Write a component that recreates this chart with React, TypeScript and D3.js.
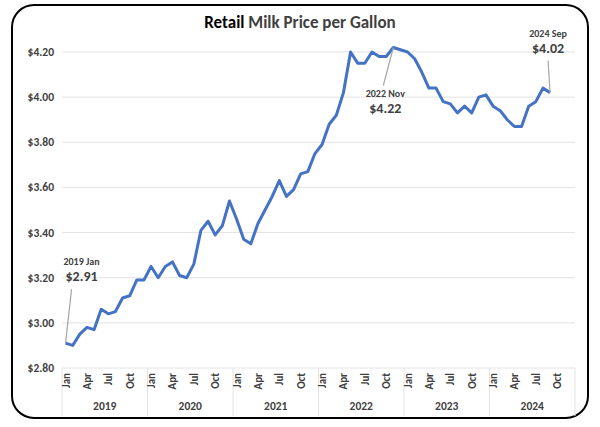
import React from 'react';
import * as d3 from 'd3';

const years = ['2019', '2020', '2021', '2022', '2023', '2024'];
const monthNames = ['Jan', 'Feb', 'Mar', 'Apr', 'May', 'Jun', 'Jul', 'Aug', 'Sep', 'Oct', 'Nov', 'Dec'];
const tickMonths = ['Jan', 'Apr', 'Jul', 'Oct'];
const yTicks = [2.8, 3.0, 3.2, 3.4, 3.6, 3.8, 4.0, 4.2];

const prices = [
  2.91, 2.90, 2.95, 2.98, 2.97, 3.06, 3.04, 3.05, 3.11, 3.12, 3.19, 3.19,
  3.25, 3.20, 3.25, 3.27, 3.21, 3.20, 3.26, 3.41, 3.45, 3.39, 3.43, 3.54,
  3.46, 3.37, 3.35, 3.44, 3.50, 3.56, 3.63, 3.56, 3.59, 3.66, 3.67, 3.75,
  3.79, 3.88, 3.92, 4.02, 4.20, 4.15, 4.15, 4.20, 4.18, 4.18, 4.22, 4.21,
  4.20, 4.17, 4.11, 4.04, 4.04, 3.98, 3.97, 3.93, 3.96, 3.93, 4.00, 4.01,
  3.96, 3.94, 3.90, 3.87, 3.87, 3.96, 3.98, 4.04, 4.02,
];

const callouts = [
  { index: 0, label: '2019 Jan', value: '$2.91', dx: -4, dy: -62 },
  { index: 46, label: '2022 Nov', value: '$4.22', dx: -8, dy: 50 },
  { index: 68, label: '2024 Sep', value: '$4.02', dx: -2, dy: -40 },
];

const W = 600;
const H = 427;
const margin = { top: 35, right: 25, bottom: 60, left: 62 };

export default function App() {
  const innerW = W - margin.left - margin.right;
  const innerH = H - margin.top - margin.bottom - 0;
  const x = d3.scaleLinear().domain([0, 72]).range([margin.left, margin.left + innerW]);
  const y = d3.scaleLinear().domain([2.8, 4.2]).range([368, 52]);
  const px = (i: number) => x(i + 0.5);

  const line = d3.line<number>().x((_, i) => px(i)).y(d => y(d));
  const font = 'Calibri, Carlito, "Liberation Sans", Arial, sans-serif';
  const axisBottom = 368;

  return (
    <svg width={W} height={H} style={{ position: 'absolute', left: 0, top: 0, fontFamily: font }}>
      <rect x={12} y={5} width={576} height={413} rx={22} fill="#fff" stroke="#000" strokeWidth={2} />
      <text x={W / 2} y={28} textAnchor="middle" fontSize={17} fontWeight="bold">
        <tspan fill="#000">Retail</tspan>
        <tspan fill="#404040"> Milk Price per Gallon</tspan>
      </text>
      {yTicks.map(t => (
        <g key={t}>
          {t > 2.8 && <line x1={margin.left} x2={margin.left + innerW} y1={y(t)} y2={y(t)} stroke="#e3e3e3" />}
          <text x={margin.left - 8} y={y(t) + 4} textAnchor="end" fontSize={11.5} fontWeight="bold" fill="#404040">
            ${t.toFixed(2)}
          </text>
        </g>
      ))}
      {/* category axis frame */}
      <line x1={margin.left} x2={margin.left + innerW} y1={axisBottom} y2={axisBottom} stroke="#e3e3e3" />
      {years.map((yr, yi) => (
        <g key={yr}>
          <line x1={x(yi * 12)} x2={x(yi * 12)} y1={axisBottom} y2={416} stroke="#e3e3e3" />
          <text x={x(yi * 12 + 6)} y={410} textAnchor="middle" fontSize={11.5} fontWeight="bold" fill="#404040">{yr}</text>
          {tickMonths.map(m => {
            const mi = yi * 12 + monthNames.indexOf(m);
            return (
              <text key={m} transform={`translate(${px(mi) + 4},${axisBottom + 5}) rotate(-90)`} textAnchor="end"
                fontSize={11} fontWeight="bold" fill="#404040">{m}</text>
            );
          })}
        </g>
      ))}
      <line x1={x(72)} x2={x(72)} y1={axisBottom} y2={416} stroke="#e3e3e3" />
      <line x1={margin.left} x2={margin.left + innerW} y1={389} y2={389} stroke="#e3e3e3" opacity={0} />
      <path d={line(prices) || ''} fill="none" stroke="#4472c4" strokeWidth={3} strokeLinejoin="round" />
      {callouts.map(c => {
        const cx = px(c.index);
        const cy = y(prices[c.index]);
        const tx = cx + c.dx;
        const ty = cy + c.dy;
        const below = c.dy > 0;
        return (
          <g key={c.label}>
            <line x1={cx} y1={cy} x2={tx + (below ? -2 : 0) + (c.index === 0 ? 10 : 0)}
              y2={below ? ty - 12 : ty + 8} stroke="#a6a6a6" strokeWidth={1.2} />
            <text x={tx + (c.index === 0 ? 20 : 0)} y={below ? ty : ty - 16} textAnchor="middle" fontSize={10} fontWeight="bold" fill="#404040">{c.label}</text>
            <text x={tx + (c.index === 0 ? 20 : 0)} y={below ? ty + 16 : ty} textAnchor="middle" fontSize={14} fontWeight="bold" fill="#404040">{c.value}</text>
          </g>
        );
      })}
    </svg>
  );
}
